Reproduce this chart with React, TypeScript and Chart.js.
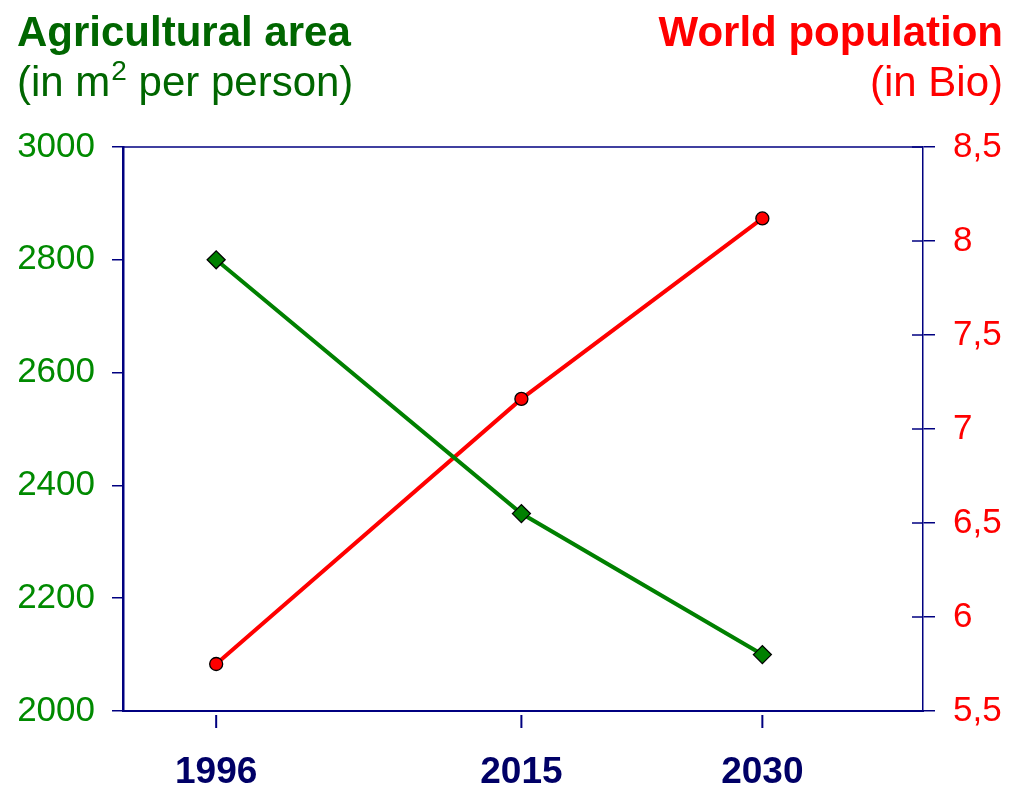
import React, { useEffect, useRef } from "react";
import { Chart, registerables } from "chart.js";

Chart.register(...registerables);

const years = [1996, 2015, 2030];
const agriculturalArea = [2800, 2350, 2100];
const worldPopulation = [5.75, 7.16, 8.12];
const xTickYears = [1996, 2015, 2030];

const NAVY = "#000080";
const GREEN = "#008000";
const GREEN_TICK = "#008a00";
const GREEN_DARK = "#006600";
const RED = "#ff0000";
const FONT = "'Liberation Sans', Arial, sans-serif";

const framePlugin = {
  id: "frame",
  afterDraw(chart: any) {
    const ctx = chart.ctx;
    const { left, right, top, bottom } = chart.chartArea;
    const yR = chart.scales.y2;
    const xS = chart.scales.x;
    ctx.save();
    ctx.strokeStyle = NAVY;
    ctx.lineWidth = 1.5;
    ctx.beginPath();
    ctx.moveTo(left, top);
    ctx.lineTo(right, top);
    ctx.stroke();
    yR.ticks.forEach((t: any) => {
      const py = yR.getPixelForValue(t.value);
      ctx.beginPath();
      ctx.moveTo(right - 11, py);
      ctx.lineTo(right, py);
      ctx.stroke();
    });
    ctx.lineWidth = 2;
    xS.ticks.forEach((t: any) => {
      const px = xS.getPixelForValue(t.value);
      ctx.beginPath();
      ctx.moveTo(px, bottom + 4);
      ctx.lineTo(px, bottom + 17);
      ctx.stroke();
    });
    ctx.textBaseline = "alphabetic";
    ctx.fillStyle = GREEN_DARK;
    ctx.textAlign = "left";
    ctx.font = `bold 42px ${FONT}`;
    ctx.fillText("Agricultural area", 17, 46);
    ctx.font = `42px ${FONT}`;
    const p1 = "(in m";
    ctx.fillText(p1, 17, 96);
    let x = 17 + ctx.measureText(p1).width;
    ctx.font = `28px ${FONT}`;
    ctx.fillText("2", x + 1, 80);
    x += ctx.measureText("2").width + 1;
    ctx.font = `42px ${FONT}`;
    ctx.fillText(" per person)", x, 96);

    ctx.fillStyle = RED;
    ctx.textAlign = "right";
    ctx.font = `bold 42px ${FONT}`;
    ctx.fillText("World population", 1003, 46);
    ctx.font = `42px ${FONT}`;
    ctx.fillText("(in Bio)", 1003, 96);
    ctx.restore();
  },
};

export default function App() {
  const ref = useRef<HTMLCanvasElement>(null);
  useEffect(() => {
    if (!ref.current) return;
    const chart = new Chart(ref.current, {
      type: "line",
      data: {
        datasets: [
          {
            label: "Agricultural area",
            data: years.map((y, i) => ({ x: y, y: agriculturalArea[i] })),
            yAxisID: "y",
            borderColor: GREEN,
            borderWidth: 4,
            pointStyle: "rectRot",
            pointRadius: 9,
            pointBackgroundColor: GREEN,
            pointBorderColor: "#000",
            pointBorderWidth: 1.3,
            tension: 0,
          },
          {
            label: "World population",
            data: years.map((y, i) => ({ x: y, y: worldPopulation[i] })),
            yAxisID: "y2",
            borderColor: RED,
            borderWidth: 4,
            pointStyle: "circle",
            pointRadius: 6.5,
            pointBackgroundColor: RED,
            pointBorderColor: "#000",
            pointBorderWidth: 1.3,
            tension: 0,
          },
        ],
      },
      options: {
        responsive: false,
        animation: false,
        layout: { padding: { top: 147, left: 0, right: 0, bottom: 0 }, autoPadding: false },
        plugins: { legend: { display: false }, tooltip: { enabled: false } },
        scales: {
          x: {
            type: "linear",
            min: 1990.2,
            max: 2040,
            afterBuildTicks: (s: any) => {
              s.ticks = xTickYears.map((v) => ({ value: v }));
            },
            afterFit: (s: any) => {
              s.height = 77;
            },
            grid: { display: false, drawTicks: false },
            border: { display: true, color: NAVY, width: 2 },
            ticks: {
              color: "#000066",
              font: { family: FONT, size: 37, weight: "bold" },
              padding: 40,
              maxRotation: 0,
              autoSkip: false,
              callback: (v: any) => String(v),
            },
          },
          y: {
            position: "left",
            min: 2000,
            max: 3000,
            afterFit: (s: any) => {
              s.width = 123;
            },
            grid: { drawOnChartArea: false, tickLength: 11, color: NAVY, lineWidth: 1.5 },
            border: { display: true, color: NAVY, width: 2.5 },
            ticks: {
              stepSize: 200,
              color: GREEN_TICK,
              font: { family: FONT, size: 35 },
              padding: 17,
              callback: (v: any) => String(v),
            },
          },
          y2: {
            position: "right",
            min: 5.5,
            max: 8.5,
            afterFit: (s: any) => {
              s.width = 86;
            },
            grid: { drawOnChartArea: false, tickLength: 12, color: NAVY, lineWidth: 1.5 },
            border: { display: true, color: NAVY, width: 1.5 },
            ticks: {
              stepSize: 0.5,
              color: RED,
              font: { family: FONT, size: 35 },
              padding: 18,
              callback: (v: any) => String(v).replace(".", ","),
            },
          },
        },
      },
      plugins: [framePlugin],
    } as any);
    return () => chart.destroy();
  }, []);
  return (
    <div style={{ position: "absolute", left: 0, top: 0, width: 1009, height: 788, background: "#fff" }}>
      <canvas ref={ref} width={1009} height={788} style={{ display: "block" }} />
    </div>
  );
}
